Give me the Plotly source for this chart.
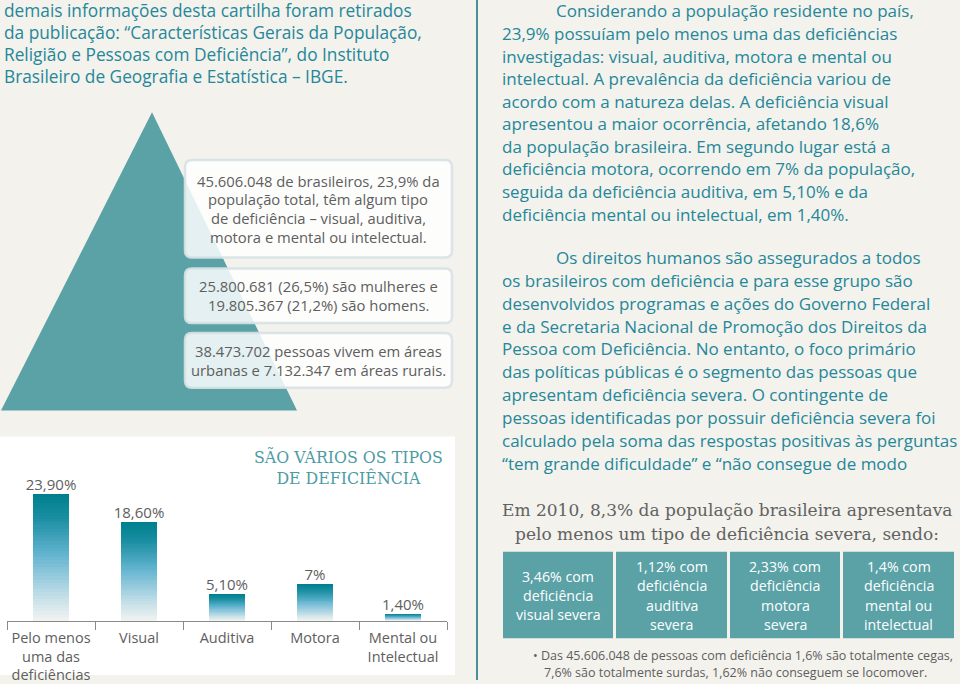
import plotly.graph_objects as go

W, H = 960, 684

# ---------------- data ----------------
categories = ["Pelo menos<br>uma das<br>deficiências", "Visual", "Auditiva", "Motora", "Mental ou<br>Intelectual"]
values = [23.9, 18.6, 5.1, 7.0, 1.4]
value_labels = ["23,90%", "18,60%", "5,10%", "7%", "1,40%"]

severe_labels = [
    ["3,46% com", "deficiência", "visual severa"],
    ["1,12% com", "deficiência", "auditiva", "severa"],
    ["2,33% com", "deficiência", "motora", "severa"],
    ["1,4% com", "deficiência", "mental ou", "intelectual"],
]

intro_lines = [
    "demais informações desta cartilha foram retirados",
    "da publicação: “Características Gerais da População,",
    "Religião e Pessoas com Deficiência”, do Instituto",
    "Brasileiro de Geografia e Estatística – IBGE.",
]

pyramid_boxes = [
    ["45.606.048 de brasileiros, 23,9% da", "população total, têm algum tipo",
     "de deficiência – visual, auditiva,", "motora e mental ou intelectual."],
    ["25.800.681 (26,5%) são mulheres e", "19.805.367 (21,2%) são homens."],
    ["38.473.702 pessoas vivem em áreas", "urbanas e 7.132.347 em áreas rurais."],
]

para1 = [
    "Considerando a população residente no país,",
    "23,9% possuíam pelo menos uma das deficiências",
    "investigadas: visual, auditiva, motora e mental ou",
    "intelectual. A prevalência da deficiência variou de",
    "acordo com a natureza delas. A deficiência visual",
    "apresentou a maior ocorrência, afetando 18,6%",
    "da população brasileira. Em segundo lugar está a",
    "deficiência motora, ocorrendo em 7% da população,",
    "seguida da deficiência auditiva, em 5,10% e da",
    "deficiência mental ou intelectual, em 1,40%.",
]
para2 = [
    "Os direitos humanos são assegurados a todos",
    "os brasileiros com deficiência e para esse grupo são",
    "desenvolvidos programas e ações do Governo Federal",
    "e da Secretaria Nacional de Promoção dos Direitos da",
    "Pessoa com Deficiência. No entanto, o foco primário",
    "das políticas públicas é o segmento das pessoas que",
    "apresentam deficiência severa. O contingente de",
    "pessoas identificadas por possuir deficiência severa foi",
    "calculado pela soma das respostas positivas às perguntas",
    "“tem grande dificuldade” e “não consegue de modo",
]
severe_header = ["Em 2010, 8,3% da população brasileira apresentava",
                 "pelo menos um tipo de deficiência severa, sendo:"]
note_lines = ["• Das 45.606.048 de pessoas com deficiência 1,6% são totalmente cegas,",
              "7,6% são totalmente surdas, 1,62% não conseguem se locomover."]
chart_title = "SÃO VÁRIOS OS TIPOS<br>DE DEFICIÊNCIA"

# ---------------- styles ----------------
BG = "#f3f2ec"
TEAL_TXT = "#25879a"
GREY_TXT = "#5e5e5e"
TEAL_FILL = "#5ba2a7"
SANS = "Open Sans"
SERIF = "DejaVu Serif"


def X(px):
    return px / W


def Y(px):
    return 1 - px / H


def rpath(x0, y0, x1, y1, r):
    return (f"M {X(x0+r)},{Y(y0)} L {X(x1-r)},{Y(y0)} Q {X(x1)},{Y(y0)} {X(x1)},{Y(y0+r)} "
            f"L {X(x1)},{Y(y1-r)} Q {X(x1)},{Y(y1)} {X(x1-r)},{Y(y1)} "
            f"L {X(x0+r)},{Y(y1)} Q {X(x0)},{Y(y1)} {X(x0)},{Y(y1-r)} "
            f"L {X(x0)},{Y(y0+r)} Q {X(x0)},{Y(y0)} {X(x0+r)},{Y(y0)} Z")


fig = go.Figure()

stops = [(0.0, (0, 128, 142)), (0.18, (25, 142, 162)), (0.5, (105, 183, 210)),
         (0.82, (196, 223, 232)), (1.0, (240, 242, 240))]


def grad(f):
    for (f0, c0), (f1, c1) in zip(stops[:-1], stops[1:]):
        if f <= f1:
            t = (f - f0) / (f1 - f0) if f1 > f0 else 0
            c = [round(a + (b - a) * t) for a, b in zip(c0, c1)]
            return f"rgb({c[0]},{c[1]},{c[2]})"
    return "rgb(240,242,240)"


N = 40
for i in range(N):
    frac = 1 - i / N
    fig.add_trace(go.Bar(
        x=categories, y=[v * frac for v in values], width=0.4,
        marker=dict(color=grad(i / (N - 1)), line=dict(width=0)),
        hoverinfo="skip", showlegend=False, xaxis="x", yaxis="y"))

fig.add_trace(go.Scatter(
    x=categories, y=values, mode="text", text=value_labels,
    textposition="top center", textfont=dict(family=SANS, size=15, color=GREY_TXT),
    hoverinfo="skip", showlegend=False, cliponaxis=False))

shapes = []
shapes.append(dict(type="path", xref="paper", yref="paper", layer="below",
                   path=f"M {X(152)},{Y(113)} L {X(1)},{Y(413)} L {X(297)},{Y(413)} Z",
                   fillcolor=TEAL_FILL, line=dict(width=0)))
box_y = [(161, 259), (270, 325), (335, 390)]
for (y0, y1) in box_y:
    shapes.append(dict(type="path", xref="paper", yref="paper", layer="below",
                       path=rpath(185, y0, 452, y1, 7),
                       fillcolor="rgba(255,255,255,0.84)",
                       line=dict(color="rgba(215,226,230,0.9)", width=2.5)))
shapes.append(dict(type="rect", xref="paper", yref="paper", layer="below",
                   x0=X(0), x1=X(455), y0=Y(679), y1=Y(439),
                   fillcolor="white", line=dict(width=0)))
shapes.append(dict(type="line", xref="paper", yref="paper",
                   x0=X(477), x1=X(477), y0=0, y1=1,
                   line=dict(color="#4b8f99", width=2)))
box_x = [(503, 613), (616, 727), (730, 840), (843, 954)]
for (x0, x1) in box_x:
    shapes.append(dict(type="rect", xref="paper", yref="paper", layer="below",
                       x0=X(x0), x1=X(x1), y0=Y(642), y1=Y(555),
                       fillcolor=TEAL_FILL, line=dict(width=0)))

ann = []


def text(s, x, y, size, color, family=SANS, anchor="left"):
    ann.append(dict(text=s, x=X(x), y=Y(y), xref="paper", yref="paper",
                    xanchor=anchor, yanchor="middle", showarrow=False,
                    font=dict(family=family, size=size, color=color)))


for i, s in enumerate(intro_lines):
    text(s, 1.5, 11 + 22 * i, 17.3, TEAL_TXT)

for (y0, y1), lines in zip(box_y, pyramid_boxes):
    n = len(lines)
    yc = (y0 + y1) / 2
    for i, s in enumerate(lines):
        text(s, 318, yc + (i - (n - 1) / 2) * 18.8, 14.8, GREY_TXT, anchor="center")

for i, s in enumerate(para1):
    text(s, 554 if i == 0 else 499.5, 11 + 22.7 * i, 17.0, TEAL_TXT)
for i, s in enumerate(para2):
    text(s, 554 if i == 0 else 499.5, 259 + 23 * i, 17.0, TEAL_TXT)

for i, s in enumerate(severe_header):
    text(s, 727, 513 + 24 * i, 17, "#626262", family=SERIF, anchor="center")

for (x0, x1), lines in zip(box_x, severe_labels):
    n = len(lines)
    for i, s in enumerate(lines):
        text(s, (x0 + x1) / 2, 599 + (i - (n - 1) / 2) * 19.5, 14.2, "white", anchor="center")

text(note_lines[0], 531, 659, 12.5, GREY_TXT)
text(note_lines[1], 542, 676, 12.5, GREY_TXT)

ann.append(dict(text=chart_title, x=X(348), y=Y(470), xref="paper", yref="paper",
                xanchor="center", yanchor="middle", showarrow=False,
                font=dict(family=SERIF, size=15.8, color="#4d9ca3")))

fig.update_layout(
    width=W, height=H, margin=dict(l=0, r=0, t=0, b=0),
    paper_bgcolor=BG, plot_bgcolor="rgba(0,0,0,0)",
    barmode="overlay", bargap=0, showlegend=False,
    shapes=shapes, annotations=ann,
    xaxis=dict(domain=[X(7), X(447)], type="category", categoryorder="array",
               categoryarray=categories, range=[-0.5, 4.5],
               showline=True, linecolor="#8a8a8a", linewidth=1,
               ticks="outside", tickson="boundaries", ticklen=8, tickcolor="#8a8a8a",
               tickangle=0, ticklabelstandoff=3,
               tickfont=dict(family=SANS, size=14.5, color=GREY_TXT),
               showgrid=False, zeroline=False, fixedrange=True),
    yaxis=dict(domain=[Y(625), Y(464)], range=[0, 30], visible=False,
               showgrid=False, zeroline=False, fixedrange=True),
)

fig.write_html("out.html", config={"displayModeBar": False},
               post_script="document.body.style.margin='0';document.body.style.overflow='hidden';")
